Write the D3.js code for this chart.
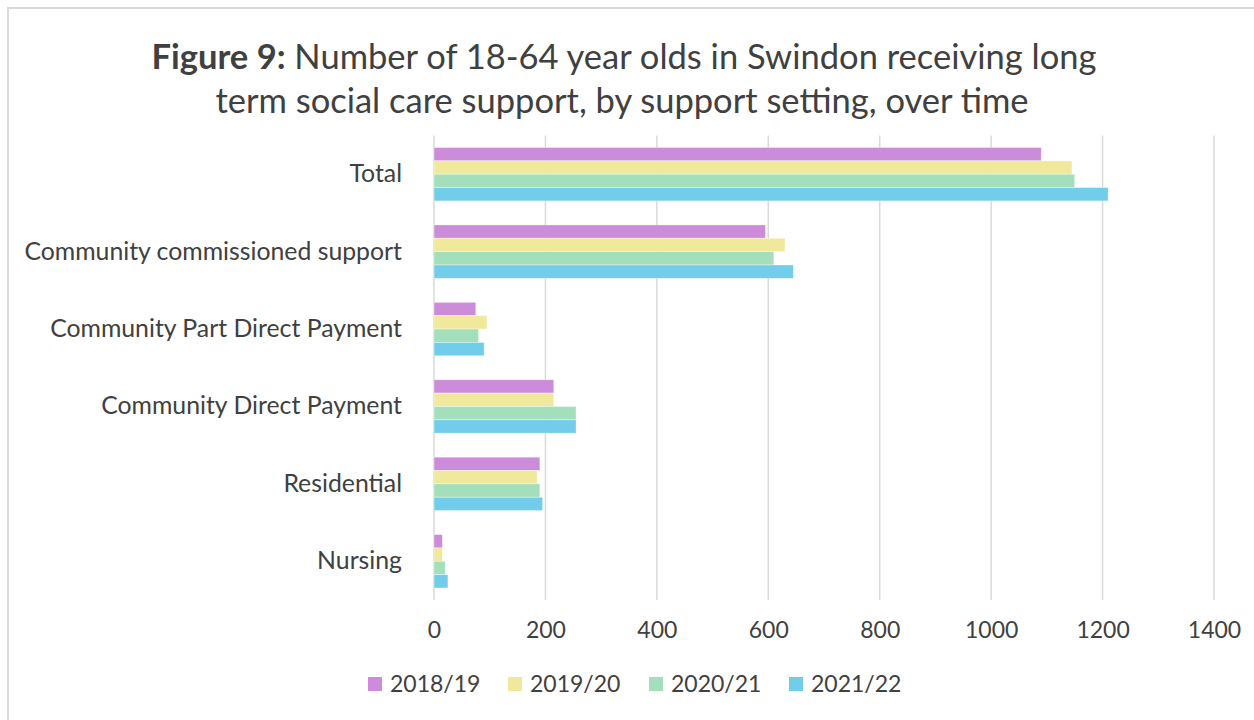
<!DOCTYPE html>
<html>
<head>
<meta charset="utf-8">
<script src="https://cdnjs.cloudflare.com/ajax/libs/d3/7.8.5/d3.min.js"></script>
<style>
  html, body { margin: 0; padding: 0; background: #fff; }
  svg text { font-family: Lato, "Noto Sans", sans-serif; fill: #404040; }
</style>
</head>
<body>
<svg id="chart" width="1254" height="720"></svg>
<script>
// Support settings, top to bottom
const categories = [
  "Total",
  "Community commissioned support",
  "Community Part Direct Payment",
  "Community Direct Payment",
  "Residential",
  "Nursing"
];
const years = ["2018/19", "2019/20", "2020/21", "2021/22"];
const values2018 = [1090, 595, 75, 215, 190, 15];
const values2019 = [1145, 630, 95, 215, 185, 15];
const values2020 = [1150, 610, 80, 255, 190, 20];
const values2021 = [1210, 645, 90, 255, 195, 25];
const xTicks = [0, 200, 400, 600, 800, 1000, 1200, 1400];
const colors = ["#cc8cd9", "#f0e99c", "#a3dfba", "#72cdea"];

const seriesValues = [values2018, values2019, values2020, values2021];
const rows = categories.map((c, i) => ({
  category: c,
  values: years.map((y, j) => ({ year: y, value: seriesValues[j][i], idx: j }))
}));

const svg = d3.select("#chart");

// chart frame
svg.append("rect")
  .attr("x", 8).attr("y", 8).attr("width", 1260).attr("height", 730)
  .attr("fill", "#fff").attr("stroke", "#d9d9d9").attr("stroke-width", 2);

// title
const title = svg.append("text")
  .attr("x", 624).attr("y", 69)
  .attr("text-anchor", "middle")
  .style("font-size", "34.5px");
title.append("tspan").attr("font-weight", "bold").text("Figure 9:");
title.append("tspan").text(" Number of 18-64 year olds in Swindon receiving long");
svg.append("text")
  .attr("x", 622).attr("y", 113)
  .attr("text-anchor", "middle")
  .style("font-size", "34.5px")
  .text("term social care support, by support setting, over time");

const x = d3.scaleLinear().domain([0, 1400]).range([434, 1214]);
const y0 = d3.scaleBand().domain(categories).range([135.5, 600]).paddingInner(0.31).paddingOuter(0.155);
const y1 = d3.scaleBand().domain(years).range([0, y0.bandwidth()]);

// gridlines
svg.append("g")
  .selectAll("line")
  .data(xTicks)
  .join("line")
  .attr("x1", d => x(d)).attr("x2", d => x(d))
  .attr("y1", 135.5).attr("y2", 600)
  .attr("stroke", "#d9d9d9").attr("stroke-width", 1.5);

// bars
svg.append("g")
  .selectAll("g")
  .data(rows)
  .join("g")
  .attr("transform", d => `translate(0,${y0(d.category)})`)
  .selectAll("rect")
  .data(d => d.values)
  .join("rect")
  .attr("x", x(0))
  .attr("y", d => y1(d.year))
  .attr("width", d => x(d.value) - x(0))
  .attr("height", y1.bandwidth())
  .attr("fill", d => colors[d.idx])
  .attr("stroke", "#ffffff").attr("stroke-opacity", 0.5).attr("stroke-width", 0.75);

// category labels
const yAxis = d3.axisLeft(y0).tickSize(0).tickPadding(0);
const yg = svg.append("g").attr("transform", "translate(402,0)").call(yAxis);
yg.select(".domain").remove();
yg.selectAll("text").style("font-size", "24.8px").attr("fill", "#404040");

// value axis labels
const xAxis = d3.axisBottom(x).tickValues(xTicks).tickSize(0).tickPadding(0).tickFormat(d3.format("d"));
const xg = svg.append("g").attr("transform", "translate(0,622)").call(xAxis);
xg.select(".domain").remove();
xg.selectAll("text").style("font-size", "23px").attr("fill", "#404040");

// legend
const legendX = [368, 508, 649, 789];
const legend = svg.append("g")
  .selectAll("g")
  .data(years)
  .join("g")
  .attr("transform", (d, i) => `translate(${legendX[i]},677)`);
legend.append("rect")
  .attr("width", 14).attr("height", 14)
  .attr("fill", (d, i) => colors[i]);
legend.append("text")
  .attr("x", 22).attr("y", 15)
  .style("font-size", "23px")
  .text(d => d);
</script>
</body>
</html>
